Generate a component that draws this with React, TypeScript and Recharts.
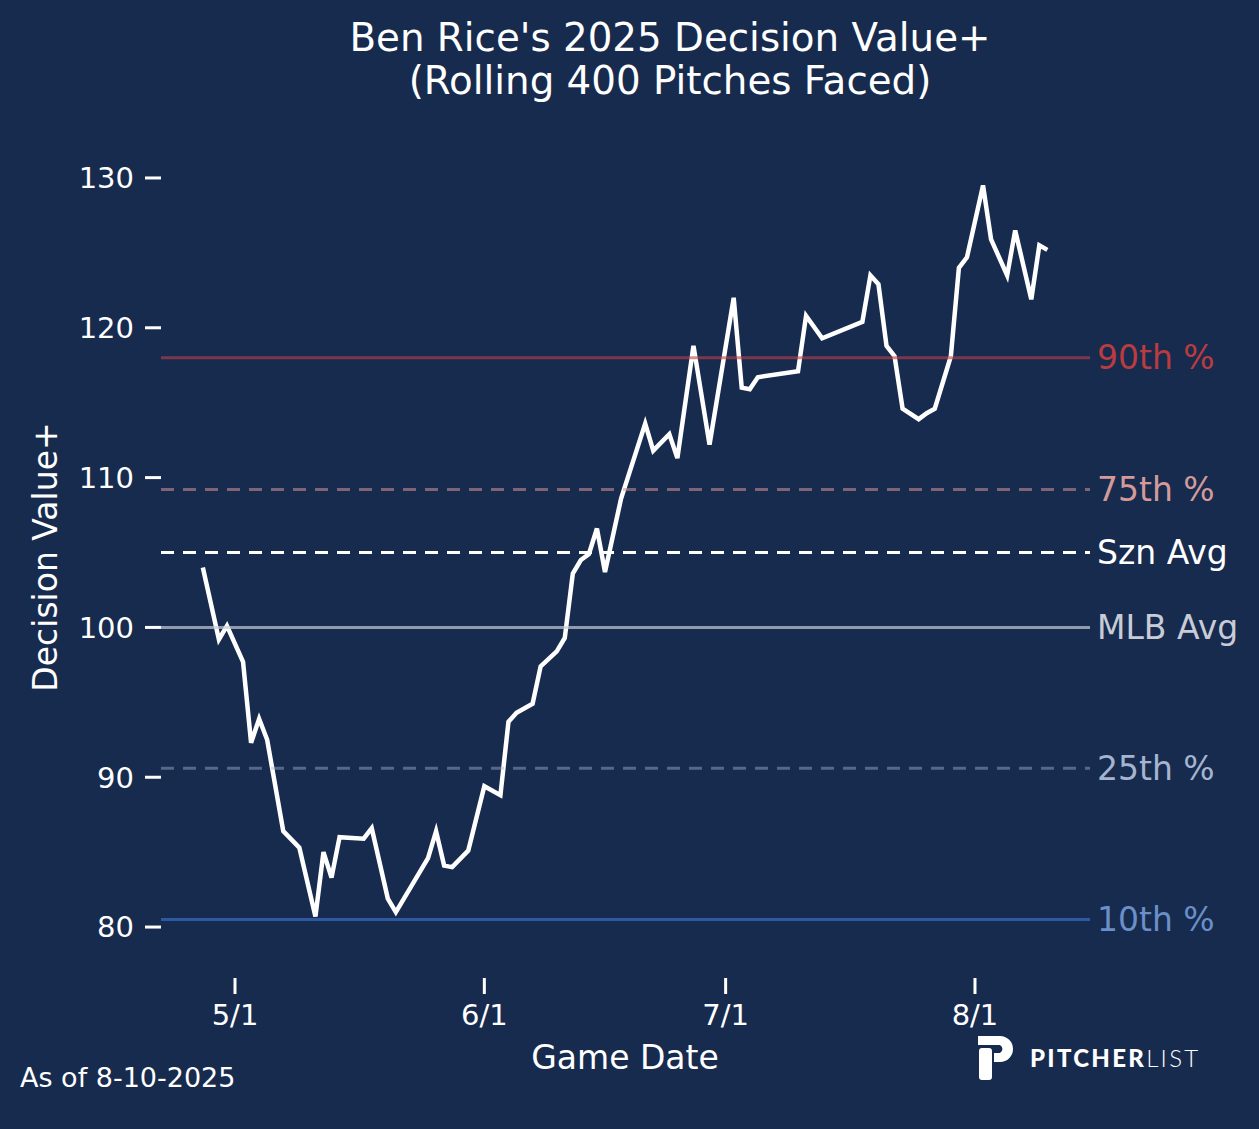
import { LineChart, Line, XAxis, YAxis, ReferenceLine, Label } from 'recharts';

// Rolling Decision Value+ (400 pitches faced)
const GAME_DATES = [
  '2025-04-27', '2025-04-29', '2025-04-30', '2025-05-02', '2025-05-03', '2025-05-04',
  '2025-05-05', '2025-05-07', '2025-05-09', '2025-05-11', '2025-05-12', '2025-05-13',
  '2025-05-14', '2025-05-17', '2025-05-18', '2025-05-20', '2025-05-21', '2025-05-25',
  '2025-05-26', '2025-05-27', '2025-05-28', '2025-05-30', '2025-06-01', '2025-06-03',
  '2025-06-04', '2025-06-05', '2025-06-07', '2025-06-08', '2025-06-10', '2025-06-11',
  '2025-06-12', '2025-06-13', '2025-06-14', '2025-06-15', '2025-06-16', '2025-06-18',
  '2025-06-21', '2025-06-22', '2025-06-24', '2025-06-25', '2025-06-27', '2025-06-29',
  '2025-07-02', '2025-07-03', '2025-07-04', '2025-07-05', '2025-07-10', '2025-07-11',
  '2025-07-13', '2025-07-18', '2025-07-19', '2025-07-20', '2025-07-21', '2025-07-22',
  '2025-07-23', '2025-07-25', '2025-07-26', '2025-07-27', '2025-07-29', '2025-07-30',
  '2025-07-31', '2025-08-02', '2025-08-03', '2025-08-05', '2025-08-06', '2025-08-08',
  '2025-08-09', '2025-08-10',
];

const DECISION_VALUE = [
  104.0, 99.2, 100.1, 97.7, 92.3, 93.9,
  92.5, 86.4, 85.3, 80.7, 85.0, 83.3,
  86.0, 85.9, 86.6, 81.9, 81.0, 84.6,
  86.4, 84.1, 84.0, 85.1, 89.4, 88.8,
  93.7, 94.3, 94.9, 97.4, 98.4, 99.3,
  103.6, 104.5, 104.9, 106.6, 103.7, 108.6,
  113.6, 111.8, 112.9, 111.3, 118.8, 112.2,
  122.0, 116.0, 115.9, 116.7, 117.1, 120.8,
  119.3, 120.4, 123.5, 122.9, 118.8, 118.1,
  114.6, 113.9, 114.3, 114.6, 118.1, 124.0,
  124.7, 129.5, 125.9, 123.5, 126.5, 121.9,
  125.5, 125.2,
];

const X_TICK_DATES = ['2025-05-01', '2025-06-01', '2025-07-01', '2025-08-01'];
const X_TICK_LABELS = ['5/1', '6/1', '7/1', '8/1'];
const Y_TICKS = [80, 90, 100, 110, 120, 130];

const REF_LABELS = ['90th %', '75th %', 'Szn Avg', 'MLB Avg', '25th %', '10th %'];
const REF_VALUES = [118.0, 109.2, 105.0, 100.0, 90.6, 80.5];

// line colour, opacity, dash, label colour per reference line
const REF_STYLES = [
  { stroke: '#c0404a', opacity: 0.6, dash: undefined, text: '#b83c40' },
  { stroke: '#d49494', opacity: 0.55, dash: '13 9', text: '#d49a9a' },
  { stroke: '#ffffff', opacity: 1, dash: '13 9', text: '#ffffff' },
  { stroke: '#c8ccd6', opacity: 0.7, dash: undefined, text: '#c8ccd6' },
  { stroke: '#a5b4cd', opacity: 0.45, dash: '13 9', text: '#a5b4cf' },
  { stroke: '#3c78d8', opacity: 0.6, dash: undefined, text: '#6b8fc8' },
];

const BG = '#172b4e';
const FONT = '"DejaVu Sans", sans-serif';
const START = Date.parse('2025-05-01');
const toDay = (d: string) => (Date.parse(d) - START) / 86400000;

const chartData = GAME_DATES.map((d, i) => ({ day: toDay(d), value: DECISION_VALUE[i] }));
const tickDays = X_TICK_DATES.map(toDay);

export default function App() {
  return (
    <div
      style={{
        position: 'absolute',
        top: 0,
        left: 0,
        width: 1259,
        height: 1129,
        background: BG,
        fontFamily: FONT,
        color: '#fff',
        overflow: 'hidden',
      }}
    >
      <div
        style={{
          position: 'absolute',
          top: 16,
          left: 0,
          width: 1340,
          textAlign: 'center',
          fontSize: 38.8,
          lineHeight: '43px',
        }}
      >
        Ben Rice's 2025 Decision Value+
        <br />
        (Rolling 400 Pitches Faced)
      </div>

      <LineChart
        width={1259}
        height={1129}
        data={chartData}
        margin={{ top: 148, right: 169, bottom: 91, left: 101 }}
        style={{ position: 'absolute', top: 0, left: 0 }}
      >
        <XAxis
          type="number"
          dataKey="day"
          domain={[-9.2, 106.3]}
          allowDataOverflow
          ticks={tickDays}
          tickFormatter={(v) => X_TICK_LABELS[tickDays.indexOf(v)] ?? ''}
          axisLine={false}
          tickLine={{ stroke: '#fff', strokeWidth: 3 }}
          tickSize={16}
          tickMargin={10}
          height={60}
          tick={{ fill: '#fff', fontSize: 29, fontFamily: FONT }}
        >
          <Label
            content={() => (
              <text x={625} y={1069} textAnchor="middle" fill="#fff" fontSize={33} fontFamily={FONT}>
                Game Date
              </text>
            )}
          />
        </XAxis>
        <YAxis
          type="number"
          domain={[76.6, 132]}
          allowDataOverflow
          ticks={Y_TICKS}
          axisLine={false}
          tickLine={{ stroke: '#fff', strokeWidth: 3 }}
          tickSize={16}
          tickMargin={11}
          width={60}
          tick={{ fill: '#fff', fontSize: 29, fontFamily: FONT }}
        >
          <Label
            content={() => (
              <text
                x={57}
                y={557}
                transform="rotate(-90 57 557)"
                textAnchor="middle"
                fill="#fff"
                fontSize={33}
                fontFamily={FONT}
              >
                Decision Value+
              </text>
            )}
          />
        </YAxis>
        <Line
          type="linear"
          dataKey="value"
          stroke="#ffffff"
          strokeWidth={4.5}
          dot={false}
          activeDot={false}
          isAnimationActive={false}
        />
        {REF_VALUES.map((v, i) => (
          <ReferenceLine
            key={REF_LABELS[i]}
            y={v}
            stroke={REF_STYLES[i].stroke}
            strokeOpacity={REF_STYLES[i].opacity}
            strokeWidth={3}
            strokeDasharray={REF_STYLES[i].dash}
            label={{
              value: REF_LABELS[i],
              position: 'right',
              offset: 7,
              fill: REF_STYLES[i].text,
              fontSize: 33,
              fontFamily: FONT,
            }}
          />
        ))}
      </LineChart>

      <div
        style={{
          position: 'absolute',
          top: 1064,
          left: 20,
          fontSize: 27,
          lineHeight: '27px',
        }}
      >
        As of 8-10-2025
      </div>

      {/* Pitcher List logo */}
      <svg
        width={40}
        height={46}
        viewBox="0 0 40 46"
        style={{ position: 'absolute', left: 977, top: 1036 }}
      >
        <path d="M1 0 H23 A13 13 0 0 1 23 26 H17 V17 H23 A4.5 4.5 0 0 0 23 9 H1 Z" fill="#fff" />
        <rect x={2} y={12} width={13} height={32} rx={3} fill="#fff" />
      </svg>
      <div
        style={{
          position: 'absolute',
          left: 1030,
          top: 1046,
          fontFamily: 'Lato, sans-serif',
          fontSize: 24,
          lineHeight: '24px',
          letterSpacing: 2.3,
          whiteSpace: 'nowrap',
        }}
      >
        <span style={{ fontWeight: 900 }}>PITCHER</span>
        <span style={{ fontWeight: 300 }}>LIST</span>
      </div>
    </div>
  );
}
